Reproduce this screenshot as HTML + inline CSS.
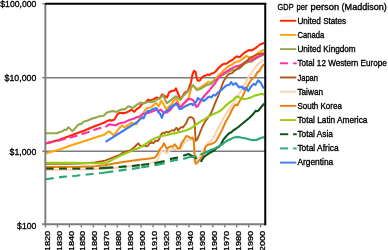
<!DOCTYPE html>
<html><head><meta charset="utf-8"><title>GDP per person (Maddison)</title>
<style>
html,body{margin:0;padding:0;background:#fff;}
body{width:388px;height:250px;overflow:hidden;}
svg{display:block;}
text{font-family:"Liberation Sans",sans-serif;fill:#000;stroke:#000;stroke-width:0.32px;}
svg{will-change:transform;opacity:0.999;}
</style></head><body>
<svg width="388" height="250" viewBox="0 0 388 250">
<rect width="388" height="250" fill="#fff"/>

<line x1="42.3" y1="77.65" x2="265" y2="77.65" stroke="#7d7d7d" stroke-width="1.45"/>
<line x1="42.3" y1="151.25" x2="265" y2="151.25" stroke="#7d7d7d" stroke-width="1.45"/>
<g>
<polyline points="46,143.3 58,140.3 62,138.8 67,137 76,133.6 84,130.8 94,126.5 100,124.3 104,122.7 107.1,121.1 109.2,120.1 111.8,120.6 114.4,119.6 117,114.9 119.6,112.8 122.7,113.1 125.8,112.8 128.9,111.3 131.5,109.7 134.1,111.8 136.7,109.2 139.3,107.6 140.5,106 142.1,103.8 145.2,102.7 148.3,99.6 150.4,100.6 153.5,99.1 156.6,97.5 159.7,98.5 162.3,94.4 165.4,96.5 167,97.5 169.1,92.3 172.2,90.8 174.3,90.8 176,88.4 177.6,92.3 179.1,96 180.7,99.6 182.2,96.5 184.3,93.4 185.9,91.8 187.4,91.8 189,88.2 190.9,82.8 192.5,74.5 194,70.8 195.6,71.9 196.6,77.6 197.7,80.7 199.7,80.7 201.8,77.6 203.9,76 206,75.5 207.5,74.5 209.6,75 211.7,73.4 213.8,72.9 215.8,71.2 217.9,68.8 219.1,67.4 222.2,64.8 224.3,63.8 226.4,63.8 229,61.7 231.6,60.4 233.7,58.8 234.9,57.7 236.8,56.3 238.7,57.2 240.2,56.7 242.6,54.3 245,52.4 247.4,51 249.3,50 251.2,50.5 253.1,49.5 255.5,48.1 257.9,46.2 260.3,44.2 262.2,43.8 264.2,42.8" fill="none" stroke="#FF2606" stroke-width="2.1" stroke-linejoin="round" stroke-linecap="butt"/>
<polyline points="46,153.3 58,150 60,149.5 67,146.7 76,143.7 84,141.2 94,138 99,136.3 104,135 106.6,132.9 108.7,131.4 110.8,132.4 113.4,135 116,132.9 118,129.8 120.1,127.2 122.2,125.6 124.3,127.2 126.3,126.2 128.9,124.3 131.5,122.8 133.6,123.7 136.2,124.4 137.8,122 139.8,117.5 141.9,115.4 143.5,112.8 145.2,110 147.3,107.9 149.4,107.9 151.4,106.8 153.5,105.3 155.6,103.2 157.2,104.2 158.7,106.3 160,103.5 161.4,100.6 163.4,103.7 165.5,107.9 166.5,110 168.6,106.8 171.2,104.8 173.2,101.6 175.9,98.5 176.8,99.3 178.1,102.2 180.2,107.4 182.2,105.8 184.3,103.2 187.4,100.6 189,97.5 190,92.8 191,88.8 192.1,86 193.2,85.4 194.9,87.2 196.6,89 198.7,88.3 200.8,87.4 202.9,85.8 205,84.5 206.7,83.2 207.9,82 209.6,82.4 211.3,82 213,81.1 214.7,79.5 216,78.4 218.6,75.2 221.2,73.1 223.8,70.5 226.4,68 229,65.9 231.6,64.8 234.2,62.8 236.8,61.7 239.4,61.2 240.6,60.1 243,58.6 245,57.2 246.4,56.2 248.3,56.7 250.2,58.2 252.5,57.5 254.6,56.5 256.5,54.5 258.4,52.9 260.8,51.4 262.7,50.5 264.2,50" fill="none" stroke="#FFA20E" stroke-width="2.1" stroke-linejoin="round" stroke-linecap="butt"/>
<polyline points="46,133.2 52,133.2 57.5,133.2 59.6,132 62.2,131.4 64.8,129.6 66.4,130 68.4,127.2 70.5,129.3 72.6,131.1 75.2,128.3 77.3,125.7 79.4,124.1 81,124.1 84,121.5 87,120.8 90,119.5 93,118.2 96,117.6 99,116.3 102,116 104,115.4 106.6,112.8 110.2,111.5 113.4,111.1 116.5,112.1 119.6,110.2 122.2,109.2 124.8,109.4 128.4,106.3 130.5,106.9 132.6,108.2 135.2,106.1 137.2,104.5 139.3,103.5 140.5,102.4 142.1,103.2 145.2,102.7 148.3,101.7 151.4,102.2 154.5,101.2 157.7,99.1 160.8,97.5 163.4,95.4 164.9,99.6 167,103.2 169.6,101.2 172.2,99.1 174.8,97 176.4,96.2 178.1,98 180.2,99.6 182.2,97 184.3,94.9 186.4,92.8 188.2,91 189.9,89.1 191.6,86.6 193.2,85.3 194.9,87.4 196.6,90 198.7,89.5 200.8,88.7 202.9,87.4 205,86.2 207.1,84.9 209.2,84.5 211.3,83.7 213.4,82 215.8,80 218.4,77.8 220,76.5 222,75.2 225,73.5 228,71.8 230,71 233,70 236,69.5 239.4,68.6 242,66 245.1,63.5 248.2,62 251.8,61.6 254.6,59.5 257,57.8 260,56.3 262.2,55.3 264.2,54.4" fill="none" stroke="#93A84B" stroke-width="2.1" stroke-linejoin="round" stroke-linecap="butt"/>
<polyline points="45.70,143.60 46.00,143.60 53.70,141.80" fill="none" stroke="#FF2FA6" stroke-width="2.1" stroke-linejoin="round"/>
<polyline points="57.62,140.86 62.00,139.80 65.62,138.83" fill="none" stroke="#FF2FA6" stroke-width="2.1" stroke-linejoin="round"/>
<polyline points="69.54,137.78 75.00,136.30 77.54,135.47" fill="none" stroke="#FF2FA6" stroke-width="2.1" stroke-linejoin="round"/>
<polyline points="81.46,134.18 82.00,134.00 88.00,132.20 89.46,131.64" fill="none" stroke="#FF2FA6" stroke-width="2.1" stroke-linejoin="round"/>
<polyline points="93.38,130.14 94.00,129.90 100.00,128.10 101.38,127.83" fill="none" stroke="#FF2FA6" stroke-width="2.1" stroke-linejoin="round"/>
<polyline points="105.30,127.06 105.60,127.00" fill="none" stroke="#FF2FA6" stroke-width="2.1" stroke-linejoin="round"/>
<polyline points="105.6,127 107.5,125.5 109.2,124.4 112.3,124.7 115.4,125.4 118.5,123.8 121.7,122.7 124.8,122.2 127.9,120.6 131,119.6 134.1,118.5 137.2,117 140,116.2 142.6,114.1 146,113.3 149.4,112.6 153.5,111 156.7,109.6 158.8,111 160.8,109.5 162.4,111.5 164.5,112.6 167,112.4 169.7,110.5 172,107.5 174.3,104.8 176.5,102.7 178,104.5 179.6,107.2 181.2,106.3 183.3,103.7 185.4,101.7 188,99.1 190.5,99.1 193.1,100.1 194.7,102.7 196.3,106.9 197.8,106.3 199.4,103.2 201.5,99.6 203.5,97 205.6,94.4 207.7,92.2 209.9,89.6 211.7,87.3 213.4,85.3 215.1,83.6 217,79.8 220.2,76.3 223.3,73.7 226.4,71.6 229.5,69.5 232.6,67.9 235.7,66.4 238.9,65.9 242,64.3 245.1,62.2 248.2,60.9 251.2,60.3 254.1,58.8 257,57.3 259.8,55.9 262.2,54.9 264.2,54" fill="none" stroke="#FF2FA6" stroke-width="2.1" stroke-linejoin="round" stroke-linecap="butt"/>
<polyline points="46,163.9 70,163.9 85,163.4 95,162.5 105,160.7 109,159 114,157 118.5,155.3 120.5,154.5 123,152.6 126,151.5 129,151 132,149.2 134.1,147.5 136.5,145 138.3,143.3 139.8,145.4 142.1,146.3 144.2,145.3 146.2,146.3 147.8,145.8 149.4,143.7 151.4,142.2 153.5,143.2 155.6,140.6 157.7,141.1 159.2,139.1 160.8,134.9 162.9,132.8 164.4,133.4 166,131.8 168,132.3 170.1,131.3 172.2,130.2 174.3,130.8 175.8,128.2 176.8,128 178.1,130.5 179.6,128.6 181.2,127.1 182.8,127.6 184.3,125.5 186.4,122.9 188,118.8 189.5,117.2 191.6,117.2 193.1,118.2 194.5,121.4 195.1,130.7 195.6,140.8 196.6,140.2 198.3,137 200.4,131.7 202.5,126.5 204.6,122.4 206.6,119.8 208.7,116.7 210.8,113.6 212.4,110 214.4,104.8 216,101.1 217.8,97 218.6,95.3 220.4,90 222.2,84.8 223.3,82 224.8,79.4 226.4,76.8 228,74.7 230,73.7 232.1,73.1 234.2,71.1 236.8,69 239.4,67.4 242,65.4 244,63.3 246.1,61.4 248.3,59.5 250.2,57.7 252.6,56.7 255,55.3 257.4,54.3 259.8,53.8 262.2,53.4 264.2,53.3" fill="none" stroke="#B5520F" stroke-width="1.85" stroke-linejoin="round" stroke-linecap="butt"/>
<polyline points="46,169.9 80,169.6 105,168.8 118,167.5 132,166.1 150,163.4 157.3,160.7 159,156 160.6,152 161.9,150.8 163.8,150.4 165.5,152 167.3,153.5 169,150.8 172,149.5 175,148.5 178,150 180,150 182,146 184,143 186.3,140.8 189,140 191,139.2 193.5,140 194.3,152 195,160 196.5,160.5 198.5,158 201,154 203,149.5 204.4,148.4 206,145.5 208,143 210,141.5 211.6,140.3 213.5,137.5 215.2,134 217,130.5 218.6,127 220.6,123.5 222.2,120.7 224,117.5 225.8,114.4 227.6,111.5 229.4,109 231.2,106 233,103.6 234.8,101 236.6,98 238.4,95.6 240.2,92 242,88.4 243.8,85.5 245.6,83 247.4,79.5 249.2,75.8 251,73.5 252.8,71.3 254.2,69 255.5,66.8 256.4,66 258.2,64 260,62.4 262,61 264,59.7" fill="none" stroke="#FBD3B3" stroke-width="2" stroke-linejoin="round" stroke-linecap="butt"/>
<polyline points="46,167 80,166.8 95,166.2 105,165.2 114,163.4 123,162 132,160.7 141,159.5 150,158.5 155,157.6 157.4,154.4 159,150.4 161.3,147.5 162.3,146.9 163.9,143.2 165.5,146.3 167,149 168.6,147.4 170.6,146.3 172.7,146.9 174.8,144.3 176.4,146.3 177.9,148.4 179.8,148.2 181.4,143.6 183.8,140 186.3,136 188.7,136.8 191,138.4 192.7,137.6 193.8,140 194.4,152 194.8,161 195.8,163.7 198,161.9 199.5,160 200.8,158.3 202.3,156.5 203.5,154.7 204.5,151 205.3,147.5 206.5,146 208,144.8 210,144.3 211.6,143.9 213.5,143 215.2,142 217,139.5 218.6,136.4 220.5,133 222.2,129.6 224,125.5 225.8,121.6 227.6,118.5 229.4,115.3 231.2,111.5 233,108 234.5,105.8 235.7,104.5 237.5,105.4 238.8,102.5 240,100.5 242,97.4 243.8,93.8 245.6,90.2 247.4,86.5 249.2,83 251.3,79.8 253.4,78 255.5,76 256.8,73 258,71.8 259.4,71.3 260.6,69 261.8,66.8 264,64.2" fill="none" stroke="#E9810D" stroke-width="2" stroke-linejoin="round" stroke-linecap="butt"/>
<polyline points="46,162.8 70,162.9 85,163 95,163.3 105,163.4 109.5,161.3 114,158.9 118.5,156.6 123,154.4 127.5,152.6 132,150.8 136.5,149 140,147.4 145.2,144.3 150.4,140.6 155.6,138 160.8,136.3 166,135.2 171.2,133.9 176.4,132.9 181.2,131.7 186.4,130.2 190.5,128.6 193.7,126.5 196.8,124 200.9,121.4 205.1,118.8 209.2,116.2 213.4,114.1 216,113.1 220.4,110.8 223,108.5 225.8,105.6 227.6,104.2 229.4,102.7 231.2,101.3 233,100 234.8,98 236.6,96.5 238,96.8 239.3,97.4 241.5,98.5 243.8,99.2 246,98.8 248.3,98.3 251,97.4 254.6,95.6 258.2,94.7 261.8,93.8 264,94.7" fill="none" stroke="#99CB13" stroke-width="2.15" stroke-linejoin="round" stroke-linecap="butt"/>
<polyline points="45.70,168.60 53.70,168.60" fill="none" stroke="#0C531B" stroke-width="2.1" stroke-linejoin="round"/>
<polyline points="59.00,168.60 67.00,168.60" fill="none" stroke="#0C531B" stroke-width="2.1" stroke-linejoin="round"/>
<polyline points="72.30,168.60 80.00,168.60 80.30,168.60" fill="none" stroke="#0C531B" stroke-width="2.1" stroke-linejoin="round"/>
<polyline points="85.60,168.52 93.60,168.40" fill="none" stroke="#0C531B" stroke-width="2.1" stroke-linejoin="round"/>
<polyline points="98.90,168.32 100.00,168.30 105.30,167.90 113.30,167.33" fill="none" stroke="#0C531B" stroke-width="2.1" stroke-linejoin="round"/>
<polyline points="118.60,166.96 126.60,166.39" fill="none" stroke="#0C531B" stroke-width="2.1" stroke-linejoin="round"/>
<polyline points="131.90,166.01 132.00,166.00 139.90,165.13" fill="none" stroke="#0C531B" stroke-width="2.1" stroke-linejoin="round"/>
<polyline points="141.10,165.00 149.10,164.01" fill="none" stroke="#0C531B" stroke-width="2.1" stroke-linejoin="round"/>
<polyline points="154.40,163.23 156.60,162.90 163.50,161.40 164.60,160.99" fill="none" stroke="#0C531B" stroke-width="2.1" stroke-linejoin="round"/>
<polyline points="169.90,159.13 177.10,157.60 177.90,157.36" fill="none" stroke="#0C531B" stroke-width="2.1" stroke-linejoin="round"/>
<polyline points="183.20,155.76 188.70,154.10 194.90,157.40 196.70,158.77" fill="none" stroke="#0C531B" stroke-width="2.1" stroke-linejoin="round"/>
<polyline points="200.7,161.8 202.3,159.5 204,157 205.8,155.5 207.9,154.1 210.8,152.2 212.7,151.3 214.6,150.2 217,147.5 218.3,147.3 219.4,146.5 221.4,143.5 223.5,139.6 225.6,137 227.7,134.6 229.5,133 231.4,132.3 233,130.6 235.7,128.8 238.4,127 241,124.8 243.8,122.5 246.5,120.2 249.2,118 251.5,115.7 253.7,113.5 255.5,110.8 256.8,111.2 258.2,110.8 260,108.5 261.8,106.3 264.5,103.6" fill="none" stroke="#0C531B" stroke-width="2.1" stroke-linejoin="round" stroke-linecap="butt"/>
<polyline points="45.70,179.20 53.70,178.10" fill="none" stroke="#2BA877" stroke-width="2.1" stroke-linejoin="round"/>
<polyline points="59.00,177.38 62.50,176.90 67.00,176.53" fill="none" stroke="#2BA877" stroke-width="2.1" stroke-linejoin="round"/>
<polyline points="72.30,176.10 76.00,175.80 80.30,175.29" fill="none" stroke="#2BA877" stroke-width="2.1" stroke-linejoin="round"/>
<polyline points="85.60,174.67 89.60,174.20 93.60,173.81" fill="none" stroke="#2BA877" stroke-width="2.1" stroke-linejoin="round"/>
<polyline points="98.90,173.30 102.00,173.00 105.30,172.50 113.30,171.37" fill="none" stroke="#2BA877" stroke-width="2.1" stroke-linejoin="round"/>
<polyline points="118.60,170.62 126.60,169.59" fill="none" stroke="#2BA877" stroke-width="2.1" stroke-linejoin="round"/>
<polyline points="131.90,168.91 132.00,168.90 139.90,167.68" fill="none" stroke="#2BA877" stroke-width="2.1" stroke-linejoin="round"/>
<polyline points="141.10,167.50 149.10,166.15" fill="none" stroke="#2BA877" stroke-width="2.1" stroke-linejoin="round"/>
<polyline points="154.40,165.27 156.60,164.90 163.50,163.40 164.60,163.03" fill="none" stroke="#2BA877" stroke-width="2.1" stroke-linejoin="round"/>
<polyline points="169.90,161.34 177.10,159.90 177.90,159.81" fill="none" stroke="#2BA877" stroke-width="2.1" stroke-linejoin="round"/>
<polyline points="183.20,159.03 188.70,157.20 195.40,156.50 196.70,156.13" fill="none" stroke="#2BA877" stroke-width="2.1" stroke-linejoin="round"/>
<polyline points="200.7,155 201.6,154.1 204,153.1 206.9,152.2 209.8,150.3 212.6,149.3 214.7,148.5 217.8,146.9 220.4,145.4 223,143.8 225.6,141.7 227.7,140.5 230.5,139.2 233,137.8 235.2,137.2 237.5,136.9 239.7,137.3 242,137.8 244.7,138.2 247.4,138.7 249.6,139.4 251.9,140 254.2,140.1 256.4,140 258.6,139 260.9,138 264.5,136.9" fill="none" stroke="#2BA877" stroke-width="2.1" stroke-linejoin="round" stroke-linecap="butt"/>
<polyline points="105.6,141.8 137.2,122 140,119.4 142.1,117.3 143.6,118.3 145.7,113.6 147.8,111 149.9,111 152,109.5 154.6,108.4 156.7,108.4 158.2,112 160.3,114.1 161.9,117.8 163.4,113.6 165.5,111.5 167.6,110.5 169.7,107.9 171.8,106.3 173.9,105.3 175.9,104 177.6,105.3 179.6,109 181.2,109 183.3,107.4 185.4,106.3 187.4,105.3 189.5,104.3 191.6,103.7 193.1,105.3 194.7,103.2 196.3,101.7 197.8,98 199.9,99.6 202,99.6 203.5,101.1 205.6,99.6 207.7,97.5 209.8,96.5 211.3,97.5 213.4,94.9 215.5,95.4 217,93.5 218.6,92 222.2,89.3 225.8,85.7 229.4,84.8 231.2,82 233,84.8 235.7,83 239.3,87.5 242,86.6 243.8,89.3 245.6,87.5 248.3,91 251,86.6 253.7,83.9 255.5,84.8 258.2,80.3 260.9,83 262.7,86.6 264,88.4" fill="none" stroke="#3B7CF3" stroke-width="2.1" stroke-linejoin="round" stroke-linecap="butt"/>
</g>
<line x1="45.35" y1="3" x2="45.35" y2="225.3" stroke="#7d7d7d" stroke-width="1.95"/>
<line x1="42.2" y1="224.3" x2="265" y2="224.3" stroke="#7d7d7d" stroke-width="1.95"/>
<line x1="42.3" y1="3.7" x2="45" y2="3.7" stroke="#7d7d7d" stroke-width="1.4"/>
<line x1="45.5" y1="224.3" x2="45.5" y2="227.5" stroke="#7d7d7d" stroke-width="1.3"/>
<line x1="57.45" y1="224.3" x2="57.45" y2="227.5" stroke="#7d7d7d" stroke-width="1.3"/>
<line x1="69.4" y1="224.3" x2="69.4" y2="227.5" stroke="#7d7d7d" stroke-width="1.3"/>
<line x1="81.35" y1="224.3" x2="81.35" y2="227.5" stroke="#7d7d7d" stroke-width="1.3"/>
<line x1="93.3" y1="224.3" x2="93.3" y2="227.5" stroke="#7d7d7d" stroke-width="1.3"/>
<line x1="105.25" y1="224.3" x2="105.25" y2="227.5" stroke="#7d7d7d" stroke-width="1.3"/>
<line x1="117.2" y1="224.3" x2="117.2" y2="227.5" stroke="#7d7d7d" stroke-width="1.3"/>
<line x1="129.15" y1="224.3" x2="129.15" y2="227.5" stroke="#7d7d7d" stroke-width="1.3"/>
<line x1="141.1" y1="224.3" x2="141.1" y2="227.5" stroke="#7d7d7d" stroke-width="1.3"/>
<line x1="153.05" y1="224.3" x2="153.05" y2="227.5" stroke="#7d7d7d" stroke-width="1.3"/>
<line x1="165" y1="224.3" x2="165" y2="227.5" stroke="#7d7d7d" stroke-width="1.3"/>
<line x1="176.95" y1="224.3" x2="176.95" y2="227.5" stroke="#7d7d7d" stroke-width="1.3"/>
<line x1="188.9" y1="224.3" x2="188.9" y2="227.5" stroke="#7d7d7d" stroke-width="1.3"/>
<line x1="200.85" y1="224.3" x2="200.85" y2="227.5" stroke="#7d7d7d" stroke-width="1.3"/>
<line x1="212.8" y1="224.3" x2="212.8" y2="227.5" stroke="#7d7d7d" stroke-width="1.3"/>
<line x1="224.75" y1="224.3" x2="224.75" y2="227.5" stroke="#7d7d7d" stroke-width="1.3"/>
<line x1="236.7" y1="224.3" x2="236.7" y2="227.5" stroke="#7d7d7d" stroke-width="1.3"/>
<line x1="248.65" y1="224.3" x2="248.65" y2="227.5" stroke="#7d7d7d" stroke-width="1.3"/>
<line x1="260.6" y1="224.3" x2="260.6" y2="227.5" stroke="#7d7d7d" stroke-width="1.3"/>
<line x1="45" y1="3.75" x2="266.25" y2="3.75" stroke="#000" stroke-width="1.95"/>
<line x1="265.25" y1="3" x2="265.25" y2="225.3" stroke="#000" stroke-width="2"/>
<text x="36.3" y="7.4" font-size="8.6" text-anchor="end" textLength="36" lengthAdjust="spacingAndGlyphs">$100,000</text>
<text x="36.3" y="81.2" font-size="8.6" text-anchor="end" textLength="31.7" lengthAdjust="spacingAndGlyphs">$10,000</text>
<text x="36.3" y="154.5" font-size="8.6" text-anchor="end" textLength="26.7" lengthAdjust="spacingAndGlyphs">$1,000</text>
<text x="36.3" y="228.6" font-size="8.6" text-anchor="end" textLength="19.2" lengthAdjust="spacingAndGlyphs">$100</text>
<text transform="translate(49.6,230.8) rotate(-90)" font-size="7.6" text-anchor="end" textLength="20.4" lengthAdjust="spacingAndGlyphs">1820</text>
<text transform="translate(61.55,230.8) rotate(-90)" font-size="7.6" text-anchor="end" textLength="20.4" lengthAdjust="spacingAndGlyphs">1830</text>
<text transform="translate(73.5,230.8) rotate(-90)" font-size="7.6" text-anchor="end" textLength="20.4" lengthAdjust="spacingAndGlyphs">1840</text>
<text transform="translate(85.45,230.8) rotate(-90)" font-size="7.6" text-anchor="end" textLength="20.4" lengthAdjust="spacingAndGlyphs">1850</text>
<text transform="translate(97.4,230.8) rotate(-90)" font-size="7.6" text-anchor="end" textLength="20.4" lengthAdjust="spacingAndGlyphs">1860</text>
<text transform="translate(109.35,230.8) rotate(-90)" font-size="7.6" text-anchor="end" textLength="20.4" lengthAdjust="spacingAndGlyphs">1870</text>
<text transform="translate(121.3,230.8) rotate(-90)" font-size="7.6" text-anchor="end" textLength="20.4" lengthAdjust="spacingAndGlyphs">1880</text>
<text transform="translate(133.25,230.8) rotate(-90)" font-size="7.6" text-anchor="end" textLength="20.4" lengthAdjust="spacingAndGlyphs">1890</text>
<text transform="translate(145.2,230.8) rotate(-90)" font-size="7.6" text-anchor="end" textLength="20.4" lengthAdjust="spacingAndGlyphs">1900</text>
<text transform="translate(157.15,230.8) rotate(-90)" font-size="7.6" text-anchor="end" textLength="20.4" lengthAdjust="spacingAndGlyphs">1910</text>
<text transform="translate(169.1,230.8) rotate(-90)" font-size="7.6" text-anchor="end" textLength="20.4" lengthAdjust="spacingAndGlyphs">1920</text>
<text transform="translate(181.05,230.8) rotate(-90)" font-size="7.6" text-anchor="end" textLength="20.4" lengthAdjust="spacingAndGlyphs">1930</text>
<text transform="translate(193,230.8) rotate(-90)" font-size="7.6" text-anchor="end" textLength="20.4" lengthAdjust="spacingAndGlyphs">1940</text>
<text transform="translate(204.95,230.8) rotate(-90)" font-size="7.6" text-anchor="end" textLength="20.4" lengthAdjust="spacingAndGlyphs">1950</text>
<text transform="translate(216.9,230.8) rotate(-90)" font-size="7.6" text-anchor="end" textLength="20.4" lengthAdjust="spacingAndGlyphs">1960</text>
<text transform="translate(228.85,230.8) rotate(-90)" font-size="7.6" text-anchor="end" textLength="20.4" lengthAdjust="spacingAndGlyphs">1970</text>
<text transform="translate(240.8,230.8) rotate(-90)" font-size="7.6" text-anchor="end" textLength="20.4" lengthAdjust="spacingAndGlyphs">1980</text>
<text transform="translate(252.75,230.8) rotate(-90)" font-size="7.6" text-anchor="end" textLength="20.4" lengthAdjust="spacingAndGlyphs">1990</text>
<text transform="translate(264.7,230.8) rotate(-90)" font-size="7.6" text-anchor="end" textLength="20.4" lengthAdjust="spacingAndGlyphs">2000</text>
<text x="277.6" y="10.35" font-size="8.4" textLength="16" lengthAdjust="spacingAndGlyphs">GDP</text>
<text x="296.6" y="10.35" font-size="8.4" textLength="10.9" lengthAdjust="spacingAndGlyphs">per</text>
<text x="310.5" y="10.35" font-size="8.4" textLength="28.6" lengthAdjust="spacingAndGlyphs">person</text>
<text x="341.6" y="10.35" font-size="8.4" textLength="45.2" lengthAdjust="spacingAndGlyphs">(Maddison)</text>
<line x1="280" y1="20.75" x2="296.3" y2="20.75" stroke="#FF2606" stroke-width="1.9"/>
<text x="297.4" y="24.1" font-size="8.3" textLength="48.8" lengthAdjust="spacingAndGlyphs">United States</text>
<line x1="280" y1="34.935" x2="296.3" y2="34.935" stroke="#FFA20E" stroke-width="1.9"/>
<text x="297.4" y="38.23" font-size="8.3" textLength="26.9" lengthAdjust="spacingAndGlyphs">Canada</text>
<line x1="280" y1="49.12" x2="296.3" y2="49.12" stroke="#93A84B" stroke-width="1.9"/>
<text x="297.4" y="52.36" font-size="8.3" textLength="58.3" lengthAdjust="spacingAndGlyphs">United Kingdom</text>
<line x1="279.9" y1="63.305" x2="288.2" y2="63.305" stroke="#FF2FA6" stroke-width="1.9"/>
<line x1="293.1" y1="63.305" x2="296.7" y2="63.305" stroke="#FF2FA6" stroke-width="1.9"/>
<text x="297.4" y="66.49" font-size="8.3" textLength="89.5" lengthAdjust="spacingAndGlyphs">Total 12 Western Europe</text>
<line x1="280" y1="77.49" x2="296.3" y2="77.49" stroke="#B5520F" stroke-width="1.9"/>
<text x="297.4" y="80.62" font-size="8.3" textLength="20.6" lengthAdjust="spacingAndGlyphs">Japan</text>
<line x1="280" y1="91.675" x2="296.3" y2="91.675" stroke="#FBD3B3" stroke-width="1.9"/>
<text x="297.4" y="94.75" font-size="8.3" textLength="25.7" lengthAdjust="spacingAndGlyphs">Taiwan</text>
<line x1="280" y1="105.86" x2="296.3" y2="105.86" stroke="#E9810D" stroke-width="1.9"/>
<text x="297.4" y="108.88" font-size="8.3" textLength="44.5" lengthAdjust="spacingAndGlyphs">South Korea</text>
<line x1="280" y1="120.045" x2="296.3" y2="120.045" stroke="#99CB13" stroke-width="1.9"/>
<text x="297.4" y="123.01" font-size="8.3" textLength="70.1" lengthAdjust="spacingAndGlyphs">Total Latin America</text>
<line x1="279.9" y1="134.23" x2="288.2" y2="134.23" stroke="#0C531B" stroke-width="1.9"/>
<line x1="293.1" y1="134.23" x2="296.7" y2="134.23" stroke="#0C531B" stroke-width="1.9"/>
<text x="297.4" y="137.14" font-size="8.3" textLength="35.5" lengthAdjust="spacingAndGlyphs">Total Asia</text>
<line x1="279.9" y1="148.415" x2="288.2" y2="148.415" stroke="#2BA877" stroke-width="1.9"/>
<line x1="293.1" y1="148.415" x2="296.7" y2="148.415" stroke="#2BA877" stroke-width="1.9"/>
<text x="297.4" y="151.27" font-size="8.3" textLength="41.3" lengthAdjust="spacingAndGlyphs">Total Africa</text>
<line x1="280" y1="162.6" x2="296.3" y2="162.6" stroke="#3B7CF3" stroke-width="1.9"/>
<text x="297.4" y="165.4" font-size="8.3" textLength="35.9" lengthAdjust="spacingAndGlyphs">Argentina</text>
</svg></body></html>
